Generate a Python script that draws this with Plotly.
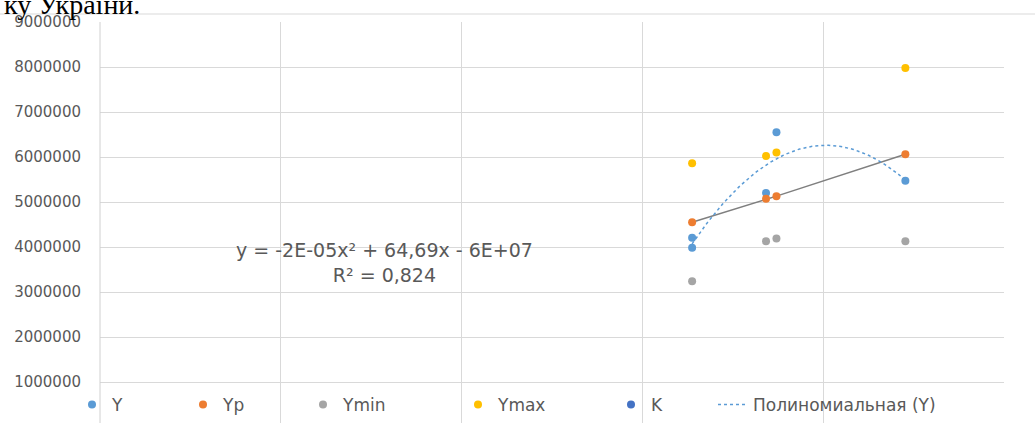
import numpy as np
import plotly.graph_objects as go

# ---- data ----
x_vals = [1310000, 1473500, 1496600, 1781800]
Y_x = [1310000, 1310000, 1473500, 1496600, 1781800]
Y = [4205000, 3985000, 5200000, 6550000, 5470000]
Yp = [4550000, 5070000, 5130000, 6060000]
Ymin = [3240000, 4130000, 4190000, 4130000]
Ymax = [5860000, 6020000, 6100000, 7980000]
K_x = [None]
K = [None]
y_ticks = [1000000, 2000000, 3000000, 4000000, 5000000, 6000000, 7000000, 8000000, 9000000]
equation_text = "y = -2E-05x² + 64,69x - 6E+07<br>R² = 0,824"
header_text = "ку України."

# polynomial (order 2) trendline of Y
coef = np.polyfit(Y_x, Y, 2)
tx = np.linspace(min(Y_x), max(Y_x), 120)
ty = np.polyval(coef, tx)

W, H = 1035, 423
L, R, T, B = 100, 1035 - 1004, 22, 0
pw = W - L - R
ph = H - T - B

def px_x(p):
    return (p - L) / pw

def px_y(p):
    return 1 - (p - T) / ph

fig = go.Figure()

# linear line through Yp (no legend)
fig.add_trace(go.Scatter(x=x_vals, y=Yp, mode="lines",
                         line=dict(color="#7F7F7F", width=1.5),
                         showlegend=False, hoverinfo="skip"))

mk = dict(size=8)
fig.add_trace(go.Scatter(x=Y_x, y=Y, mode="markers", name="Y",
                         marker=dict(color="#5B9BD5", **mk), legend="legend"))
fig.add_trace(go.Scatter(x=x_vals, y=Yp, mode="markers", name="Yp",
                         marker=dict(color="#ED7D31", **mk), legend="legend2"))
fig.add_trace(go.Scatter(x=x_vals, y=Ymin, mode="markers", name="Ymin",
                         marker=dict(color="#A5A5A5", **mk), legend="legend3"))
fig.add_trace(go.Scatter(x=x_vals, y=Ymax, mode="markers", name="Ymax",
                         marker=dict(color="#FFC000", **mk), legend="legend4"))
fig.add_trace(go.Scatter(x=K_x, y=K, mode="markers", name="K",
                         marker=dict(color="#4472C4", **mk), legend="legend5"))
fig.add_trace(go.Scatter(x=tx, y=ty, mode="lines", name="Полиномиальная (Y)",
                         line=dict(color="#5B9BD5", width=1.5, dash="dot"),
                         legend="legend6", hoverinfo="skip"))

leg_font = dict(family="DejaVu Sans", size=17, color="#595959")

def legend_at(px):
    return dict(x=px / W, xref="container", xanchor="left",
                y=1 - 405 / H, yref="container", yanchor="middle",
                orientation="h", font=leg_font, bgcolor="rgba(0,0,0,0)",
                itemsizing="trace")

fig.update_layout(
    width=W, height=H,
    margin=dict(l=L, r=R, t=T, b=B, pad=0, autoexpand=False),
    paper_bgcolor="white", plot_bgcolor="white",
    showlegend=True,
    legend=legend_at(92 - 20),
    legend2=legend_at(203 - 20),
    legend3=legend_at(323 - 20),
    legend4=legend_at(478 - 20),
    legend5=legend_at(631 - 20),
    legend6=legend_at(713),
    xaxis=dict(range=[-1, 2000001], dtick=400000, tick0=0, showgrid=True,
               gridcolor="#D9D9D9", gridwidth=1, zeroline=False, automargin=False,
               showticklabels=False, showline=False, ticks=""),
    yaxis=dict(range=[(427 - 423) / 45 * 1e6, 9000000.5], tickvals=y_ticks,
               ticktext=[str(v) for v in y_ticks], showgrid=True, automargin=False,
               gridcolor="#D9D9D9", gridwidth=1, zeroline=False,
               showline=False, ticks="", ticklabelstandoff=18,
               tickfont=dict(family="DejaVu Sans", size=15, color="#595959")),
    annotations=[
        dict(text=equation_text, x=px_x(384), y=px_y(262), xref="paper", yref="paper",
             xanchor="center", yanchor="middle", showarrow=False, align="center",
             font=dict(family="DejaVu Sans", size=19, color="#595959")),
        dict(text=header_text, x=px_x(2), y=px_y(22), xref="paper", yref="paper",
             xanchor="left", yanchor="bottom", showarrow=False,
             font=dict(family="Liberation Serif", size=28, color="black")),
    ],
    shapes=[
        dict(type="line", xref="paper", yref="paper", x0=px_x(0), x1=px_x(1035),
             y0=px_y(14), y1=px_y(14), line=dict(color="#D9D9D9", width=1)),
        dict(type="line", xref="paper", yref="paper", x0=0, x1=0,
             y0=0, y1=1, line=dict(color="#D0D0D0", width=1)),
    ],
)

fig.write_html("out.html", config={"displayModeBar": False},
               post_script="document.body.style.margin='0';document.body.style.overflow='hidden';")
